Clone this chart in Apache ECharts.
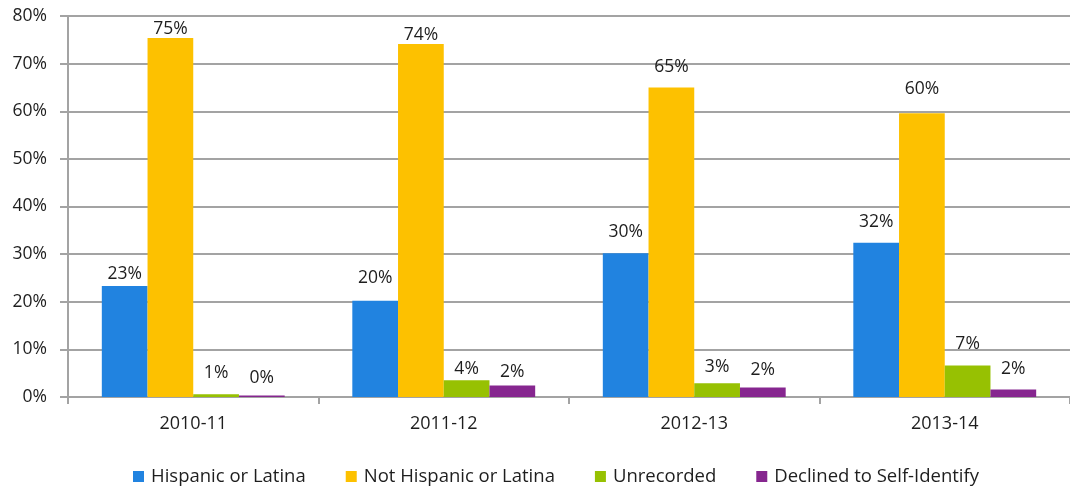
<!DOCTYPE html>
<html>
<head>
<meta charset="utf-8">
<script src="https://cdn.jsdelivr.net/npm/echarts@6/dist/echarts.min.js"></script>
<style>
  html, body { margin: 0; padding: 0; background: #fff; }
  #chart { width: 1070px; height: 489px; }
</style>
</head>
<body>
<div id="chart"></div>
<script>
// School years on the category axis
const years = ['2010-11', '2011-12', '2012-13', '2013-14'];

// Share of students (%) in each group per year
const hispanic = [23.3, 20.2, 30.2, 32.4];
const notHispanic = [75.4, 74.1, 65.0, 59.6];
const unrecorded = [0.6, 3.5, 2.9, 6.6];
const declined = [0.3, 2.4, 2.0, 1.6];

// Value-axis ticks (%)
const yTicks = [0, 10, 20, 30, 40, 50, 60, 70, 80];

const seriesNames = ['Hispanic or Latina', 'Not Hispanic or Latina', 'Unrecorded', 'Declined to Self-Identify'];
const seriesColors = ['#2183e0', '#fdc100', '#97c102', '#86268f'];
const seriesValues = [hispanic, notHispanic, unrecorded, declined];

// Gap (px) between each bar top and its value label
const labelLift = [
  [3, 14, 12, 12],
  [0, 0, 11, 15],
  [12, 2, 7, 13],
  [9, 5, 8, 11]
];

const fontFamily = '"Open Sans", "DejaVu Sans", sans-serif';
const textColor = '#1e1e1e';
const lineColor = '#a3a3a3';

const chart = echarts.init(document.getElementById('chart'), null, { renderer: 'canvas' });

const series = seriesNames.map((name, s) => ({
  name: name,
  type: 'bar',
  barGap: '0%',
  barCategoryGap: '27%',
  itemStyle: { color: seriesColors[s] },
  data: seriesValues[s].map((v, i) => ({
    value: v,
    label: { distance: labelLift[s][i] }
  })),
  label: {
    show: true,
    position: 'top',
    color: textColor,
    fontFamily: fontFamily,
    fontSize: 17.5,
    formatter: p => Math.round(p.value) + '%'
  },
  animation: false
}));

chart.setOption({
  backgroundColor: '#ffffff',
  animation: false,
  grid: { left: 68, right: -3, top: 16, bottom: 92, containLabel: false },
  legend: {
    data: seriesNames,
    left: 133,
    top: 467,
    padding: 0,
    icon: 'rect',
    itemWidth: 11,
    itemHeight: 11,
    itemGap: 40,
    textStyle: { color: textColor, fontFamily: fontFamily, fontSize: 18.5, padding: [0, 0, 0, 2] }
  },
  xAxis: {
    type: 'category',
    data: years,
    axisLine: { show: true, lineStyle: { color: lineColor, width: 2 } },
    axisTick: { show: true, length: 7, alignWithLabel: false, lineStyle: { color: lineColor, width: 2 } },
    axisLabel: { color: textColor, fontFamily: fontFamily, fontSize: 18, margin: 18 }
  },
  yAxis: {
    type: 'value',
    min: yTicks[0],
    max: yTicks[yTicks.length - 1],
    interval: yTicks[1] - yTicks[0],
    axisLine: { show: true, lineStyle: { color: lineColor, width: 2 } },
    axisTick: { show: true, length: 8, lineStyle: { color: lineColor, width: 2 } },
    splitLine: { show: true, lineStyle: { color: lineColor, width: 2 } },
    axisLabel: {
      color: textColor,
      fontFamily: fontFamily,
      fontSize: 17.5,
      margin: 21,
      formatter: v => v + '%'
    }
  },
  series: series
});
</script>
</body>
</html>
